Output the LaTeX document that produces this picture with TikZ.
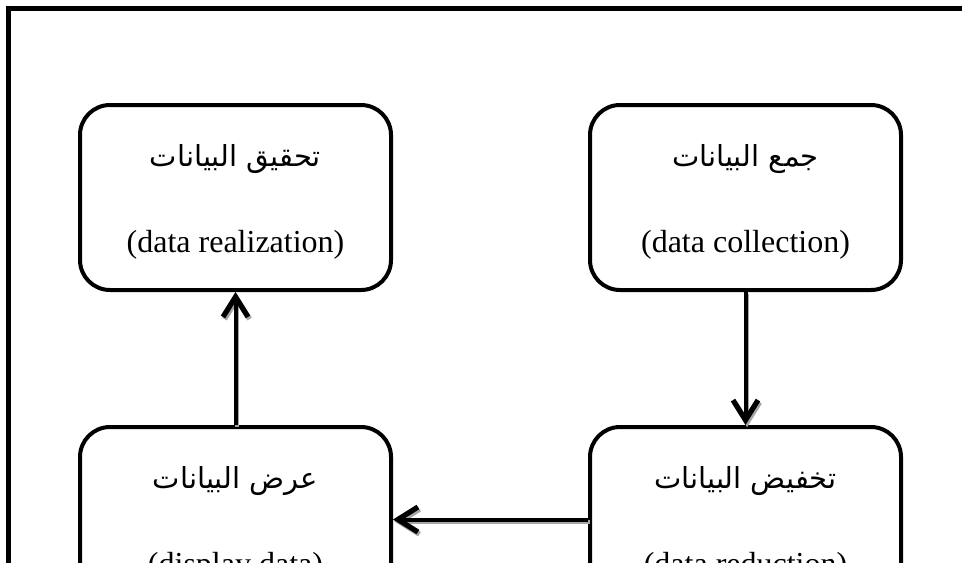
\documentclass[tikz,border=0pt]{standalone}
\usepackage{fontspec}
\setmainfont{Liberation Serif}
\newfontfamily\arabicfont[Script=Arabic]{DejaVu Sans}
\TeXXeTstate=1
\usetikzlibrary{arrows.meta,calc}
\begin{document}
\begin{tikzpicture}[x=0.5pt,y=-0.5pt,
  stepbox/.style={draw, line width=2pt, rounded corners=15pt,
    minimum width=155.5pt, minimum height=92.5pt, inner sep=0pt},
  artext/.style={font=\arabicfont\fontsize{14.5}{16}\selectfont, inner sep=0pt},
  entext/.style={font=\fontsize{16}{19}\selectfont, inner sep=0pt},
  arr/.style={line width=2pt, -{Straight Barb[length=10pt,width=12.5pt,line width=2.6pt]}},
  arrsh/.style={arr, draw=black!35, transform canvas={shift={(0.8pt,-1.1pt)}}},
  frame/.style={line width=2.5pt}]
\useasboundingbox (0,0) rectangle (962,562);
\clip (0,0) rectangle (962,562);
\draw[frame] (8.5,580) -- (8.5,8.5) -- (980,8.5);
% boxes
\node[stepbox] (tl) at (235.5,197.5) {};
\node[stepbox] (tr) at (745.5,197.5) {};
\node[stepbox] (bl) at (235.5,519.5) {};
\node[stepbox] (br) at (745.5,519.5) {};
% texts
\node[artext] (tl-ar) at ($(tl.north)+(0,56)$) {\beginR تحقيق البيانات\endR};
\node[entext] (tl-en) at ($(tl.north)+(0,142)$) {(data realization)};
\node[artext] (tr-ar) at ($(tr.north)+(0,56)$) {\beginR جمع البيانات\endR};
\node[entext] (tr-en) at ($(tr.north)+(0,142)$) {(data collection)};
\node[artext] (bl-ar) at ($(bl.north)+(0,56)$) {\beginR عرض البيانات\endR};
\node[entext] (bl-en) at ($(bl.north)+(0,142)$) {(display data)};
\node[artext] (br-ar) at ($(br.north)+(0,56)$) {\beginR تخفيض البيانات\endR};
\node[entext] (br-en) at ($(br.north)+(0,142)$) {(data reduction)};
% arrow shadows
\draw[arrsh] (tr.south) -- (br.north);
\draw[arrsh] (br.west) -- (bl.east);
\draw[arrsh] (bl.north) -- (tl.south);
% arrows
\draw[arr] (tr.south) -- (br.north);
\draw[arr] (br.west) -- (bl.east);
\draw[arr] (bl.north) -- (tl.south);
\end{tikzpicture}
\end{document}
